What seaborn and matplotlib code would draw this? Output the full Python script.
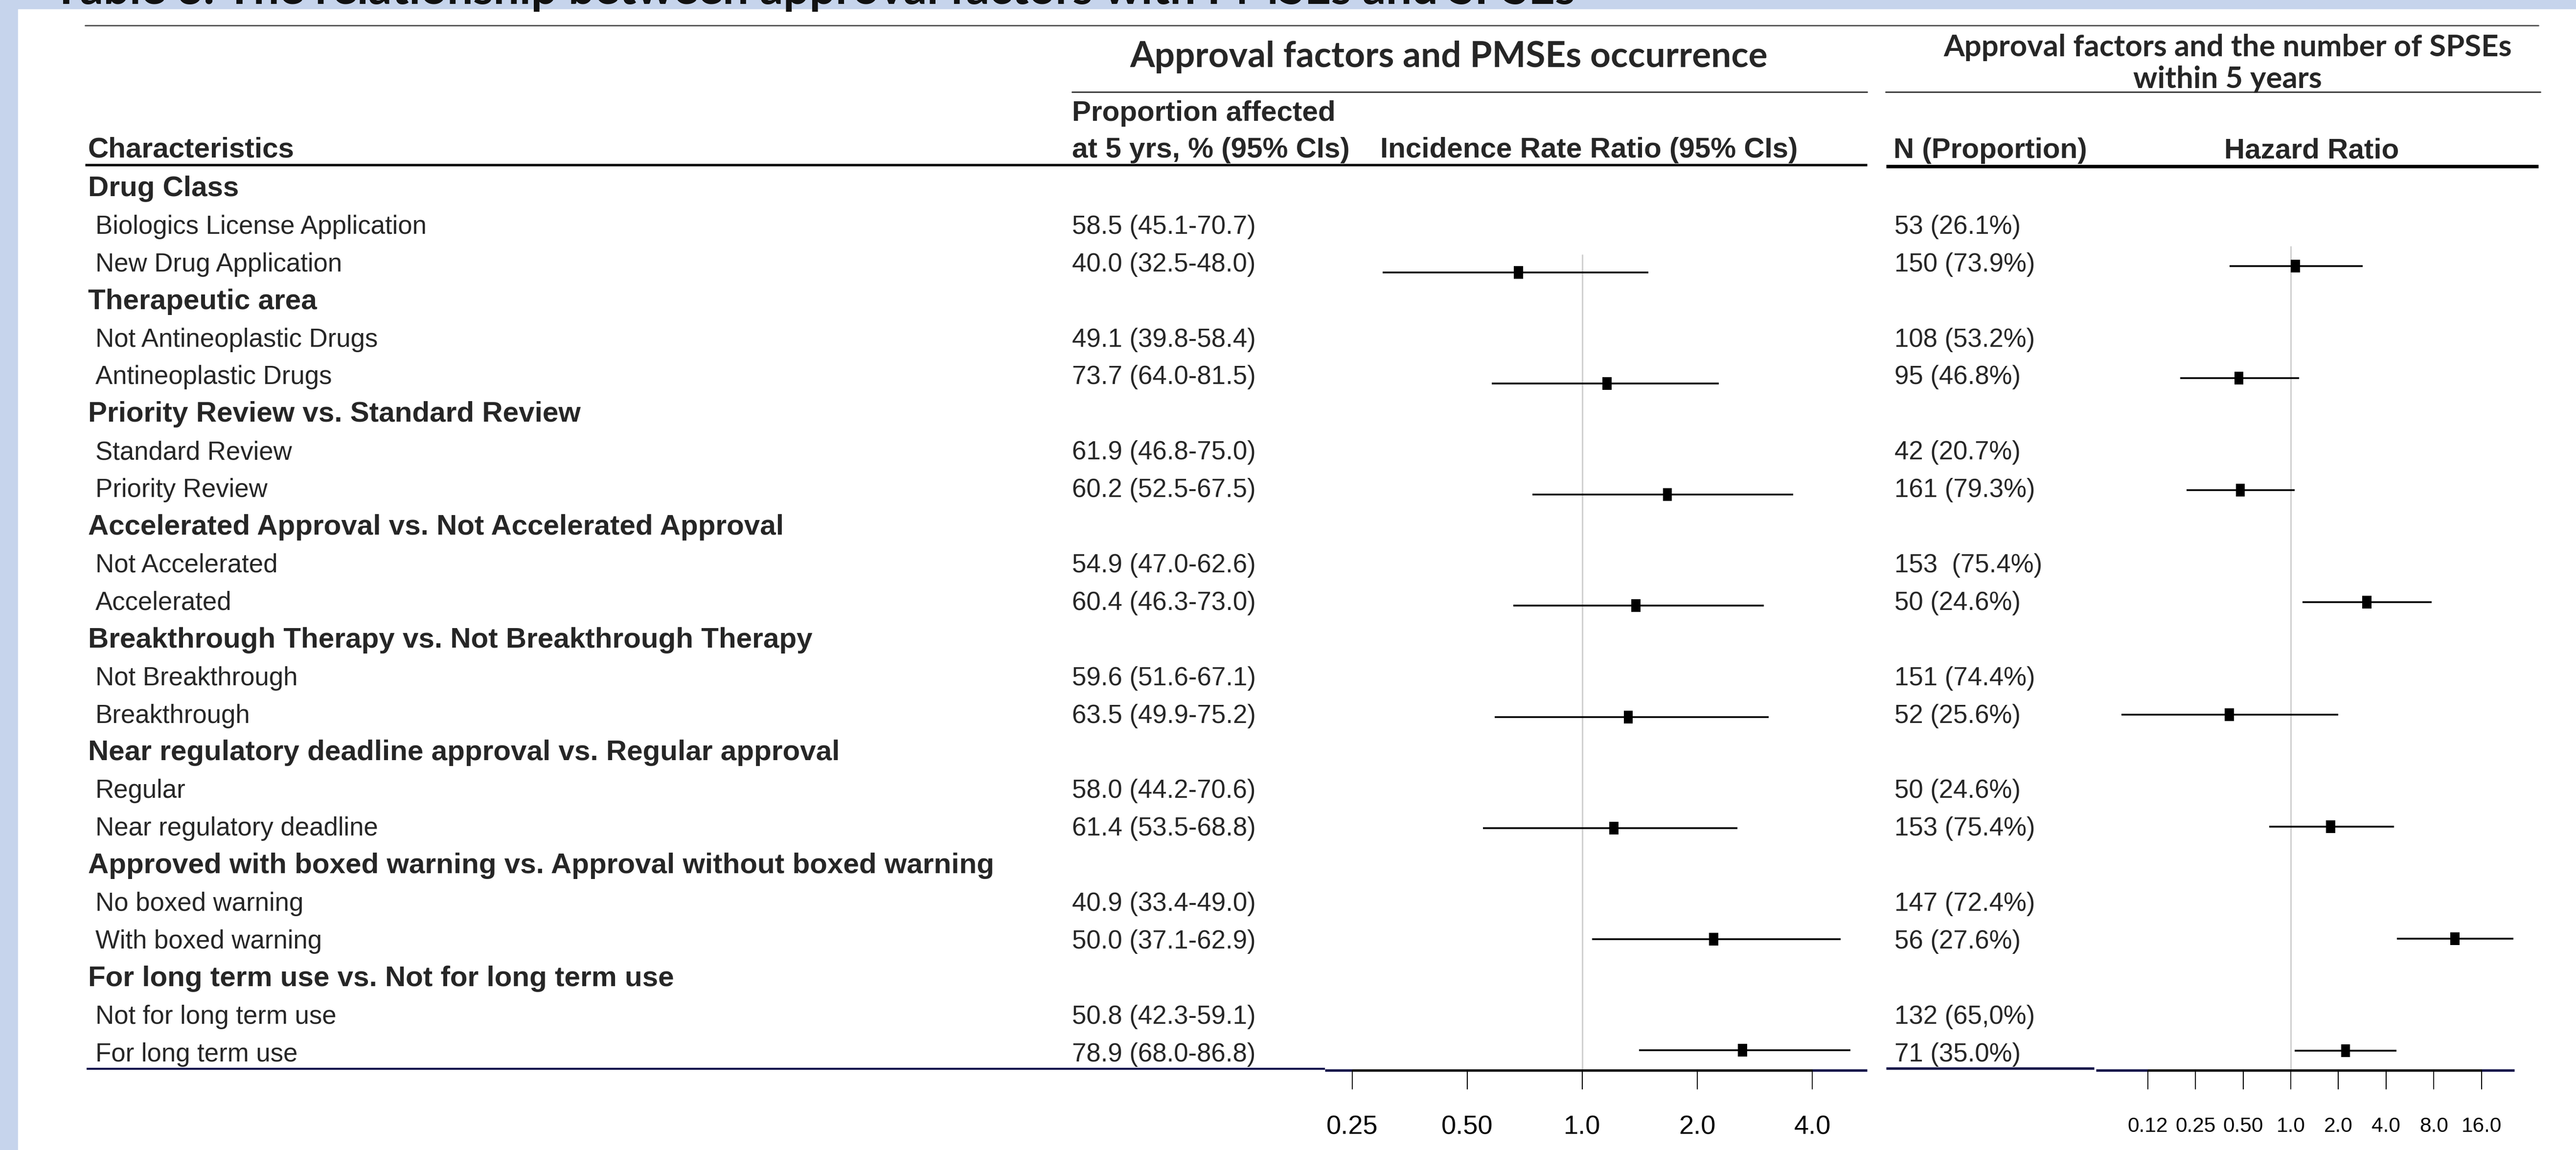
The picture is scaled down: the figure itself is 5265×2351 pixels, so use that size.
import matplotlib
matplotlib.use("Agg")
import matplotlib.pyplot as plt
from matplotlib import font_manager
from matplotlib.patches import Rectangle
from matplotlib.path import Path
import pandas as pd
import seaborn as sns

# ---- data ----
groups = ["Drug Class", "Therapeutic area", "Priority Review vs. Standard Review",
          "Accelerated Approval vs. Not Accelerated Approval",
          "Breakthrough Therapy vs. Not Breakthrough Therapy",
          "Near regulatory deadline approval vs. Regular approval",
          "Approved with boxed warning vs. Approval without boxed warning",
          "For long term use vs. Not for long term use"]
levels = [["Biologics License Application", "New Drug Application"],
          ["Not Antineoplastic Drugs", "Antineoplastic Drugs"],
          ["Standard Review", "Priority Review"],
          ["Not Accelerated", "Accelerated"],
          ["Not Breakthrough", "Breakthrough"],
          ["Regular", "Near regulatory deadline"],
          ["No boxed warning", "With boxed warning"],
          ["Not for long term use", "For long term use"]]
prop_ci = [["58.5 (45.1-70.7)", "40.0 (32.5-48.0)"],
           ["49.1 (39.8-58.4)", "73.7 (64.0-81.5)"],
           ["61.9 (46.8-75.0)", "60.2 (52.5-67.5)"],
           ["54.9 (47.0-62.6)", "60.4 (46.3-73.0)"],
           ["59.6 (51.6-67.1)", "63.5 (49.9-75.2)"],
           ["58.0 (44.2-70.6)", "61.4 (53.5-68.8)"],
           ["40.9 (33.4-49.0)", "50.0 (37.1-62.9)"],
           ["50.8 (42.3-59.1)", "78.9 (68.0-86.8)"]]
n_prop = [["53 (26.1%)", "150 (73.9%)"],
          ["108 (53.2%)", "95 (46.8%)"],
          ["42 (20.7%)", "161 (79.3%)"],
          ["153  (75.4%)", "50 (24.6%)"],
          ["151 (74.4%)", "52 (25.6%)"],
          ["50 (24.6%)", "153 (75.4%)"],
          ["147 (72.4%)", "56 (27.6%)"],
          ["132 (65,0%)", "71 (35.0%)"]]

irr_est = [0.68, 1.16, 1.67, 1.38, 1.32, 1.21, 2.21, 2.63]
irr_lo = [0.30, 0.58, 0.74, 0.66, 0.59, 0.55, 1.06, 1.41]
irr_hi = [1.49, 2.28, 3.57, 2.99, 3.08, 2.55, 4.75, 5.04]
hr_est = [1.07, 0.47, 0.48, 3.03, 0.41, 1.79, 10.9, 2.22]
hr_lo = [0.41, 0.20, 0.22, 1.19, 0.085, 0.73, 4.68, 1.06]
hr_hi = [2.85, 1.13, 1.06, 7.74, 2.00, 4.50, 25.5, 4.66]

irr_ticks = [0.25, 0.5, 1, 2, 4]
irr_ticklabels = ["0.25", "0.50", "1.0", "2.0", "4.0"]
hr_ticks = [0.125, 0.25, 0.5, 1, 2, 4, 8, 16]
hr_ticklabels = ["0.12", "0.25", "0.50", "1.0", "2.0", "4.0", "8.0", "16.0"]

title = "Table 3. The relationship between approval factors with PMSEs and SPSEs"

# ---- style ----
sns.set_theme(style="white")
plt.rcParams["font.family"] = ["Liberation Sans", "DejaVu Sans"]
installed = {f.name for f in font_manager.fontManager.ttflist}
narrow = "Liberation Sans Narrow" in installed
tick_font = ["Liberation Sans Narrow", "Liberation Sans"] if narrow else ["Liberation Sans"]

W, H = 5265, 2351
PT = 0.72  # points per pixel at dpi 100
fig = plt.figure(figsize=(W / 100, H / 100), dpi=100)
bg = fig.add_axes([0, 0, 1, 1])
bg.set_xlim(0, W)
bg.set_ylim(H, 0)
bg.axis("off")
renderer = fig.canvas.get_renderer()


def fit(t, width):
    w = t.get_window_extent(renderer).width
    t.set_fontsize(t.get_fontsize() * width / w)


bg.add_patch(Rectangle((0, 0), W, H, color="#c6d4ec", zorder=0))
bg.add_patch(Rectangle((37, 19), W - 37, H - 19, color="white", zorder=0))

# slide title, mostly above the top edge as in the source
t = bg.text(107, 8, title, family=["Lato", "DejaVu Sans"], weight="bold",
            fontsize=60, va="baseline", color="#111111")
fit(t, 3113)

# header titles
t = bg.text(2961, 137, "Approval factors and PMSEs occurrence", family=["Lato", "DejaVu Sans"],
            weight="bold", fontsize=50, ha="center", va="baseline")
fit(t, 1306)
t = bg.text(4553, 115, "Approval factors and the number of SPSEs", family=["Lato", "DejaVu Sans"],
            weight="bold", fontsize=43, ha="center", va="baseline")
fit(t, 1161)
bg.text(4553, 180, "within 5 years", family=["Lato", "DejaVu Sans"], weight="bold",
        fontsize=t.get_fontsize(), ha="center", va="baseline")

# rules
bg.plot([174, 5188], [52, 52], color="#5a5a5a", lw=3 * PT)
bg.plot([2191, 3816], [188, 188], color="#404040", lw=3 * PT)
bg.plot([3854, 5192], [188, 188], color="#404040", lw=3 * PT)
bg.plot([174, 3816], [337, 337], color="black", lw=5 * PT, solid_capstyle="butt")
bg.plot([3855, 5188], [340, 340], color="black", lw=7 * PT, solid_capstyle="butt")
navy = "#07074a"
bg.plot([177, 2708], [2185, 2185], color=navy, lw=4 * PT, solid_capstyle="butt")
bg.plot([2708, 3816], [2188, 2188], color=navy, lw=5 * PT, solid_capstyle="butt")
bg.plot([3855, 4280], [2184, 2184], color=navy, lw=5 * PT, solid_capstyle="butt")
bg.plot([4284, 5139], [2188, 2188], color=navy, lw=5 * PT, solid_capstyle="butt")

# column headers
BOLD, REG = 42, 38
bg.text(180, 322, "Characteristics", weight="bold", fontsize=BOLD, va="baseline")
bg.text(2191, 247, "Proportion affected", weight="bold", fontsize=BOLD, va="baseline")
bg.text(2191, 322, "at 5 yrs, % (95% CIs)", weight="bold", fontsize=BOLD, va="baseline")
bg.text(2821, 322, "Incidence Rate Ratio (95% CIs)", weight="bold", fontsize=BOLD, va="baseline")
bg.text(3870, 323, "N (Proportion)", weight="bold", fontsize=BOLD, va="baseline")
bg.text(4725, 323, "Hazard Ratio", weight="bold", fontsize=BOLD, ha="center", va="baseline")

# table body
rows = []
for g, lv, pc, nn in zip(groups, levels, prop_ci, n_prop):
    rows.append((g, True, "", ""))
    for a, b, c in zip(lv, pc, nn):
        rows.append((a, False, b, c))
table = pd.DataFrame(rows, columns=["label", "header", "prop", "n"])

for i, r in table.iterrows():
    yb = 401 + 76.9 * i
    if r["header"]:
        bg.text(180, yb, r["label"], weight="bold", fontsize=BOLD, va="baseline")
    else:
        bg.text(195, yb, r["label"], fontsize=REG, va="baseline")
        bg.text(2191, yb, r["prop"], fontsize=REG, va="baseline")
        bg.text(3872, yb, r["n"], fontsize=REG, va="baseline")

# ---- forest panels ----
AXIS_Y, TOP = 2188, 340
box = Path([(-0.36, -0.5), (0.36, -0.5), (0.36, 0.5), (-0.36, 0.5), (-0.36, -0.5)],
           [Path.MOVETO, Path.LINETO, Path.LINETO, Path.LINETO, Path.CLOSEPOLY])
plot_rows = [3 * k + 2 for k in range(len(groups))]


def forest(x0, x1, one_px, px_dbl, row2_px, row23_px, ref_top, est, lo, hi,
           ticks, ticklabels, fs, pad):
    ax = fig.add_axes([x0 / W, 1 - AXIS_Y / H, (x1 - x0) / W, (AXIS_Y - TOP) / H])
    step = (row23_px - row2_px) / 21

    def r(px):
        return 2 + (px - row2_px) / step

    df = pd.DataFrame({"row": plot_rows, "est": est, "lo": lo, "hi": hi})
    ax.set_xscale("log", base=2)
    ax.vlines(1, r(ref_top), r(AXIS_Y), color="#d0d0d0", lw=3 * PT, zorder=1)
    ax.hlines(df["row"], df["lo"], df["hi"], color="black", lw=3.6 * PT, zorder=2)
    sns.scatterplot(data=df, x="est", y="row", marker=box, s=(26 * PT) ** 2,
                    color="black", edgecolor="none", linewidth=0, zorder=3,
                    legend=False, ax=ax)
    ax.plot([ticks[0], ticks[-1]], [0, 0], transform=ax.get_xaxis_transform(),
            color="black", lw=5 * PT, solid_capstyle="butt", clip_on=False, zorder=4)
    ax.set_xlim(2 ** ((x0 - one_px) / px_dbl), 2 ** ((x1 - one_px) / px_dbl))
    ax.set_ylim(r(AXIS_Y), r(TOP))
    ax.set_xticks(ticks)
    ax.set_xticklabels(ticklabels, fontfamily=tick_font, fontsize=fs)
    ax.minorticks_off()
    ax.set_yticks([])
    ax.tick_params(axis="x", bottom=True, direction="out", length=39 * PT,
                   width=2 * PT, color="black", pad=pad, labelcolor="black")
    ax.set_xlabel("")
    ax.set_ylabel("")
    for s in ax.spines.values():
        s.set_visible(False)
    ax.patch.set_visible(False)
    ax.grid(False)
    return ax


forest(2708, 3816, 3234, 235, 557, 2147, 520, irr_est, irr_lo, irr_hi,
       irr_ticks, irr_ticklabels, 48 if narrow else 39, 38)
forest(4284, 5139, 4682, 97.4, 544, 2148, 503, hr_est, hr_lo, hr_hi,
       hr_ticks, hr_ticklabels, 37 if narrow else 30.5, 40)

fig.savefig("out.png", dpi=100)
